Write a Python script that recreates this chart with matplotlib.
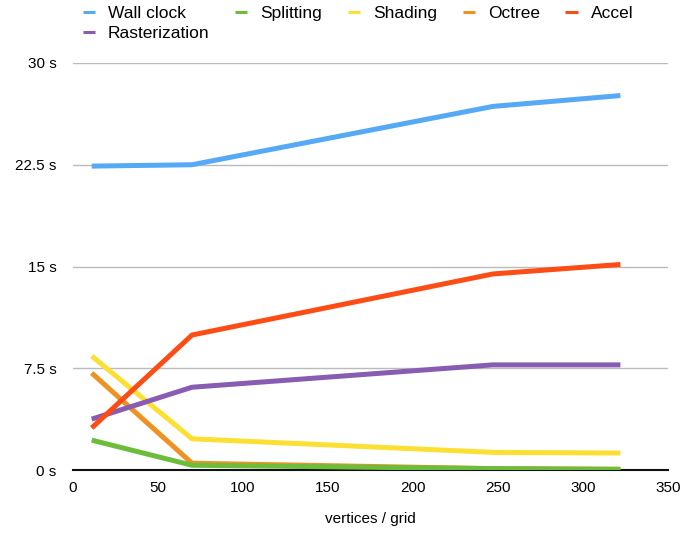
import matplotlib
matplotlib.use("Agg")
from matplotlib import pyplot as plt

plt.rcParams['font.family'] = ['Liberation Sans', 'DejaVu Sans']

verts = [11, 70, 247, 322]
wall_clock = [22.4, 22.5, 26.8, 27.6]
splitting = [2.2, 0.35, 0.1, 0.05]
shading = [8.4, 2.3, 1.3, 1.25]
octree = [7.15, 0.5, 0.1, 0.05]
accel = [3.1, 9.95, 14.45, 15.15]
raster = [3.75, 6.1, 7.75, 7.75]

colors = {
    "Wall clock": "#56a9f4",
    "Splitting": "#6cbd3c",
    "Shading": "#fbe033",
    "Octree": "#ee9322",
    "Accel": "#fe4c15",
    "Rasterization": "#885cb0",
}

fig = plt.figure(figsize=(6.81, 5.33), dpi=100)
ax = fig.add_axes([73/681, 63/533, 595/681, 407/533])

# draw order: octree under splitting, accel on top
lines = {}
for name, vals in [("Wall clock", wall_clock), ("Octree", octree), ("Splitting", splitting),
                   ("Shading", shading), ("Rasterization", raster), ("Accel", accel)]:
    lines[name], = ax.plot(verts, vals, color=colors[name], lw=3.6, label=name,
                           solid_capstyle='butt', zorder=3)

ax.set_xlim(0, 350)
ax.set_ylim(0, 30)
ax.set_xticks(range(0, 351, 50))
ax.set_yticks([0, 7.5, 15, 22.5, 30])
ax.set_yticklabels(["0 s", "7.5 s", "15 s", "22.5 s", "30 s"])
ax.grid(axis='y', color='#bbbbbb', lw=1)
ax.set_axisbelow(True)
for s in ['top', 'right', 'left']:
    ax.spines[s].set_visible(False)
ax.spines['bottom'].set_color('#111111')
ax.spines['bottom'].set_linewidth(1.5)
ax.tick_params(length=0, labelsize=11, pad=12)
ax.tick_params(axis='x', pad=8)
ax.set_xlabel("vertices / grid", fontsize=11, labelpad=12)

# legend filled column-wise, so this order gives rows:
# Wall clock, Splitting, Shading, Octree, Accel / Rasterization
order = ["Wall clock", "Rasterization", "Splitting", "Shading", "Octree", "Accel"]
leg = fig.legend([lines[n] for n in order], order, loc='upper left',
                 bbox_to_anchor=(67/681, 1.019), ncol=5, frameon=False,
                 fontsize=12.5, handlelength=0.7, handletextpad=0.75, columnspacing=1.48,
                 labelspacing=0.3)
for h in leg.legend_handles:
    h.set_linewidth(2.2)

fig.savefig("out.png", dpi=100)
